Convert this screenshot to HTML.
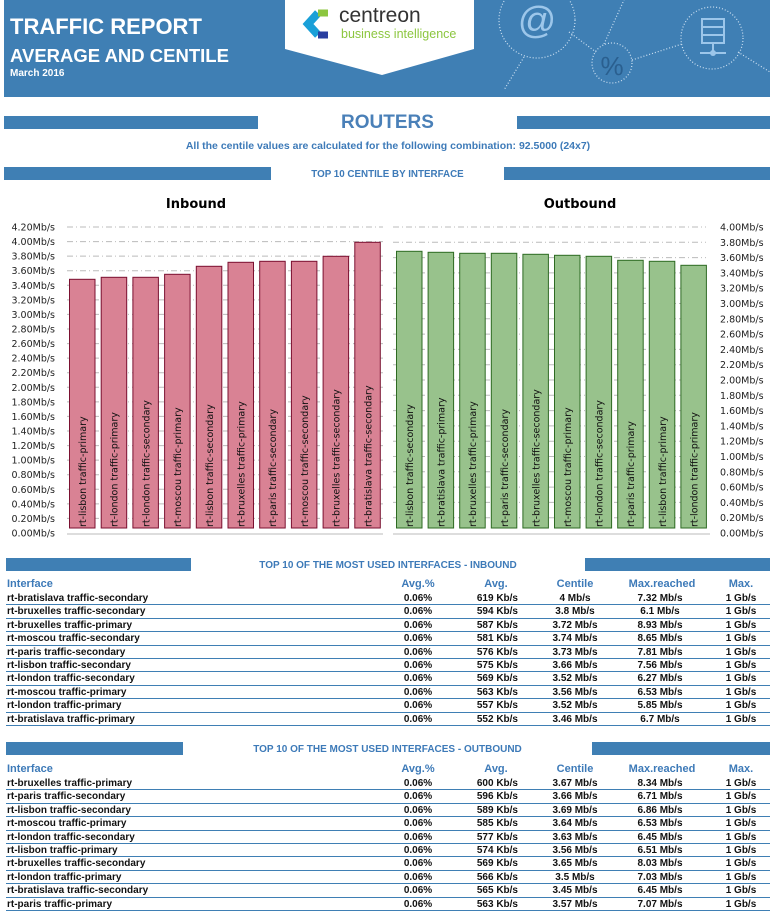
<!DOCTYPE html>
<html><head><meta charset="utf-8"><style>
*{margin:0;padding:0}
body{width:782px;height:916px;background:#fff;position:relative;overflow:hidden;font-family:"Liberation Sans",sans-serif}
.a{position:absolute}
.bar{position:absolute;background:#3f7fb4}
.tt{position:absolute;color:#3d7ab8;font-weight:bold;text-align:center;white-space:nowrap}
.tb{position:absolute;left:6px;width:764px;font-size:10px;font-weight:bold;color:#111}
.r{position:relative;height:12.4px;border-bottom:1px solid #3f7fb4;line-height:13px;white-space:nowrap}
.h{position:relative;height:15px;line-height:14px;color:#3d7ab8;font-size:11px;white-space:nowrap}
.r span,.h span{position:absolute;top:0}
</style></head><body>
<div class="a" style="left:4px;top:0;width:766px;height:97px;background:#3f7fb4;overflow:hidden">
<svg width="766" height="97" style="position:absolute;left:0;top:0">
<g fill="none" stroke="#cfe2f3" stroke-width="1.2" stroke-dasharray="1,2">
<circle cx="533" cy="20" r="38"/><circle cx="608" cy="63" r="20"/><circle cx="708" cy="38" r="31"/>
<line x1="520" y1="57" x2="500" y2="90"/><line x1="565" y1="32" x2="592" y2="52"/><line x1="628" y1="60" x2="678" y2="44"/>
<line x1="600" y1="44" x2="620" y2="0"/><line x1="734" y1="52" x2="766" y2="72"/>
</g>
<text x="533" y="33" font-size="38" fill="#9cc6ea" text-anchor="middle" font-family="Liberation Sans">@</text>
<text x="608" y="75" font-size="26" fill="#2a5f8f" text-anchor="middle" font-family="Liberation Sans">%</text>
<g fill="none" stroke="#9cc6ea" stroke-width="2"><rect x="698" y="19" width="22" height="8"/><rect x="698" y="27" width="22" height="8"/><rect x="698" y="35" width="22" height="8"/><line x1="709" y1="43" x2="709" y2="52"/><line x1="696" y1="53" x2="722" y2="53"/></g>
<circle cx="709" cy="53" r="3" fill="#9cc6ea"/>
<polygon points="281,0 470,0 470,49 378,75 281,49" fill="#fff"/>
</svg>
</div>
<div class="a" style="left:10px;top:14px;color:#fff;font-weight:bold;font-size:22px">TRAFFIC REPORT</div>
<div class="a" style="left:10px;top:45px;color:#fff;font-weight:bold;font-size:18.5px">AVERAGE AND CENTILE</div>
<div class="a" style="left:10px;top:68px;color:#fff;font-weight:bold;font-size:10px">March 2016</div>
<svg class="a" style="left:302px;top:9px" width="30" height="30"><path d="M16 4 L6 15 L16 26" fill="none" stroke="#1aa0d8" stroke-width="8"/><path d="M16 4 L26 4" stroke="#8cc63f" stroke-width="7"/><path d="M16 26 L26 26" stroke="#2a3fa0" stroke-width="7"/></svg>
<div class="a" style="left:339px;top:4px;color:#333;font-size:21px">centreon</div>
<div class="a" style="left:341px;top:27px;color:#8cc63f;font-size:12.5px">business intelligence</div>
<div class="bar" style="left:4px;top:116px;width:254px;height:13px"></div>
<div class="bar" style="left:517px;top:116px;width:253px;height:13px"></div>
<div class="tt" style="left:258px;width:259px;top:112px;font-size:19px;color:#4a80b8">ROUTERS</div>
<div class="tt" style="left:0;width:776px;top:140px;font-size:10.5px;color:#3d7ab8">All the centile values are calculated for the following combination: 92.5000 (24x7)</div>
<div class="bar" style="left:4px;top:167px;width:267px;height:13px"></div>
<div class="bar" style="left:504px;top:167px;width:266px;height:13px"></div>
<div class="tt" style="left:271px;width:233px;top:169px;font-size:9.8px">TOP 10 CENTILE BY INTERFACE</div>
<svg class="a" style="left:0;top:190px" width="782" height="360" font-family="DejaVu Sans,sans-serif">
<g transform="translate(0,-190)">
<text x="196" y="208" font-size="13" font-weight="bold" text-anchor="middle">Inbound</text>
<text x="580" y="208" font-size="13" font-weight="bold" text-anchor="middle">Outbound</text>
<g id="ig" stroke="#bbb" stroke-width="1" stroke-dasharray="6,3,1,3" fill="none"></g>
<g id="og" stroke="#bbb" stroke-width="1" stroke-dasharray="6,3,1,3" fill="none"></g>
<line x1="67" y1="534" x2="383" y2="534" stroke="#bbb"/>
<line x1="393" y1="534" x2="710" y2="534" stroke="#bbb"/>
<g id="il" font-size="9.5" fill="#222" text-anchor="end"></g>
<g id="ol" font-size="9.5" fill="#222"></g>
<g id="ib" fill="#d98294" stroke="#7a1030" stroke-width="1"></g>
<g id="ob" fill="#98c28c" stroke="#2d6a22" stroke-width="1"></g>
<g id="it" font-size="9.5" fill="#111"></g>
<g id="ot" font-size="9.5" fill="#111"></g>
</g>
</svg>
<div class="bar" style="left:6px;top:558px;width:185px;height:13px"></div>
<div class="bar" style="left:585px;top:558px;width:185px;height:13px"></div>
<div class="tt" style="left:191px;width:394px;top:560px;font-size:10px">TOP 10 OF THE MOST USED INTERFACES - INBOUND</div>
<div class="tb" id="t1" style="top:577px"></div>
<div class="bar" style="left:6px;top:742px;width:177px;height:13px"></div>
<div class="bar" style="left:592px;top:742px;width:178px;height:13px"></div>
<div class="tt" style="left:183px;width:409px;top:744px;font-size:10px">TOP 10 OF THE MOST USED INTERFACES - OUTBOUND</div>
<div class="tb" id="t2" style="top:762px"></div>
<script>
var NS="http://www.w3.org/2000/svg";
function el(p,t,a,txt){var e=document.createElementNS(NS,t);for(var k in a)e.setAttribute(k,a[k]);if(txt)e.textContent=txt;document.getElementById(p).appendChild(e);}
for(var i=0;i<=21;i++){var y=533-i*(306/21);if(i>0)el("ig","line",{x1:67,y1:y,x2:383,y2:y});el("il","text",{x:55,y:y+3.5},(i*0.2).toFixed(2)+"Mb/s");}
for(var i=0;i<=20;i++){var y=533-i*(306/20);if(i>0)el("og","line",{x1:393,y1:y,x2:706,y2:y});el("ol","text",{x:720,y:y+3.5},(i*0.2).toFixed(2)+"Mb/s");}
var it=[279.3,277.3,277.3,274.3,266.3,262.3,261.3,261.3,256.3,242.3];
var in_=["rt-lisbon traffic-primary","rt-london traffic-primary","rt-london traffic-secondary","rt-moscou traffic-primary","rt-lisbon traffic-secondary","rt-bruxelles traffic-primary","rt-paris traffic-secondary","rt-moscou traffic-secondary","rt-bruxelles traffic-secondary","rt-bratislava traffic-secondary"];
var ot=[251.3,252.3,253.3,253.3,254.3,255.3,256.3,260.3,261.3,265.3];
var on=["rt-lisbon traffic-secondary","rt-bratislava traffic-primary","rt-bruxelles traffic-primary","rt-paris traffic-secondary","rt-bruxelles traffic-secondary","rt-moscou traffic-primary","rt-london traffic-secondary","rt-paris traffic-primary","rt-lisbon traffic-primary","rt-london traffic-primary"];
for(var i=0;i<10;i++){var x=69.5+i*31.7;el("ib","rect",{x:x,y:it[i],width:25.5,height:528-it[i]});
el("it","text",{x:0,y:0,transform:"translate("+(x+16.5)+",527) rotate(-90)"},in_[i]);
var x2=396.5+i*31.6;el("ob","rect",{x:x2,y:ot[i],width:25.5,height:528-ot[i]});
el("ot","text",{x:0,y:0,transform:"translate("+(x2+16.5)+",527) rotate(-90)"},on[i]);}
function cell(v,c,align){
 if(align=="l")return '<span style="left:'+c+'px">'+v+'</span>';
 if(align=="r")return '<span style="right:'+(764-c)+'px">'+v+'</span>';
 return '<span style="left:'+(c-50)+'px;width:100px;text-align:center">'+v+'</span>';}
function build(id,rows){var h='<div class="h">'+cell("Interface",1,"l")+cell("Avg.%",412)+cell("Avg.",490)+cell("Centile",569)+cell("Max.reached",656)+cell("Max.",735)+'</div>';
 rows.forEach(function(r){var p=r.split("|");h+='<div class="r">'+cell(p[0],1,"l")+cell("0.06%",412)+cell(p[1],512,"r")+cell(p[2],569)+cell(p[3],654)+cell("1 Gb/s",735)+'</div>';});
 document.getElementById(id).innerHTML=h;}
build("t1",["rt-bratislava traffic-secondary|619 Kb/s|4 Mb/s|7.32 Mb/s","rt-bruxelles traffic-secondary|594 Kb/s|3.8 Mb/s|6.1 Mb/s","rt-bruxelles traffic-primary|587 Kb/s|3.72 Mb/s|8.93 Mb/s","rt-moscou traffic-secondary|581 Kb/s|3.74 Mb/s|8.65 Mb/s","rt-paris traffic-secondary|576 Kb/s|3.73 Mb/s|7.81 Mb/s","rt-lisbon traffic-secondary|575 Kb/s|3.66 Mb/s|7.56 Mb/s","rt-london traffic-secondary|569 Kb/s|3.52 Mb/s|6.27 Mb/s","rt-moscou traffic-primary|563 Kb/s|3.56 Mb/s|6.53 Mb/s","rt-london traffic-primary|557 Kb/s|3.52 Mb/s|5.85 Mb/s","rt-bratislava traffic-primary|552 Kb/s|3.46 Mb/s|6.7 Mb/s"]);
build("t2",["rt-bruxelles traffic-primary|600 Kb/s|3.67 Mb/s|8.34 Mb/s","rt-paris traffic-secondary|596 Kb/s|3.66 Mb/s|6.71 Mb/s","rt-lisbon traffic-secondary|589 Kb/s|3.69 Mb/s|6.86 Mb/s","rt-moscou traffic-primary|585 Kb/s|3.64 Mb/s|6.53 Mb/s","rt-london traffic-secondary|577 Kb/s|3.63 Mb/s|6.45 Mb/s","rt-lisbon traffic-primary|574 Kb/s|3.56 Mb/s|6.51 Mb/s","rt-bruxelles traffic-secondary|569 Kb/s|3.65 Mb/s|8.03 Mb/s","rt-london traffic-primary|566 Kb/s|3.5 Mb/s|7.03 Mb/s","rt-bratislava traffic-secondary|565 Kb/s|3.45 Mb/s|6.45 Mb/s","rt-paris traffic-primary|563 Kb/s|3.57 Mb/s|7.07 Mb/s"]);
</script>
</body></html>
